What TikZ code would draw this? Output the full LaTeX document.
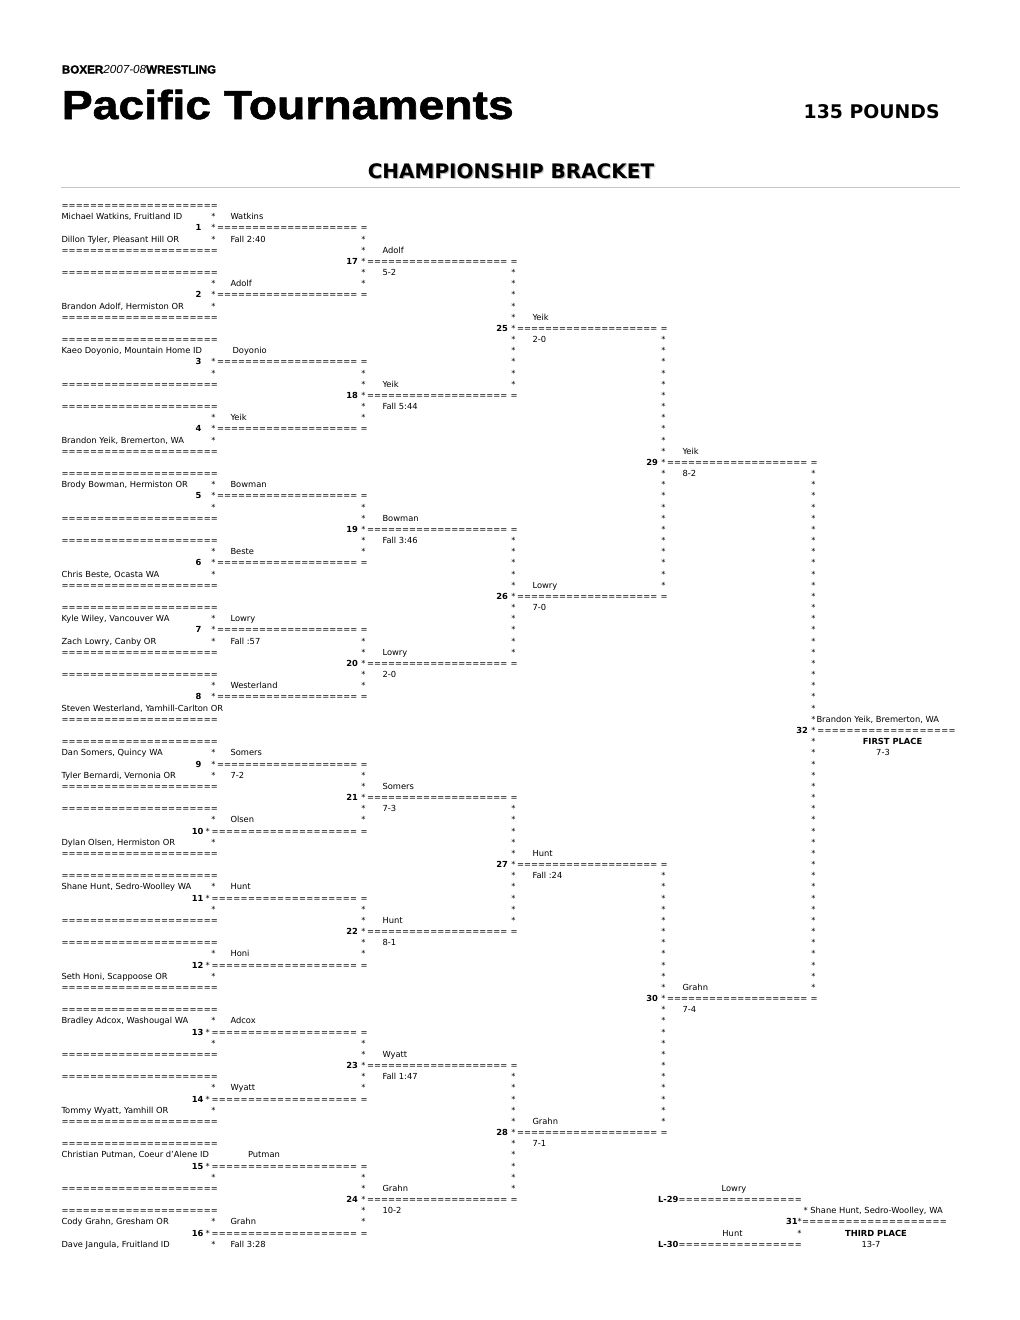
\documentclass[tikz,border=0pt]{standalone}
\usepackage{fontspec}
\setmainfont{DejaVu Sans}
\newfontfamily\libsans{Liberation Sans}
\newfontfamily\libheavy[FakeBold=1.4]{Liberation Sans}
\newfontfamily\dvsans{DejaVu Sans}
\newcommand\bodyfont{\dvsans\fontsize{5}{6}\selectfont}
\newcommand\eqs[1]{\hbox to \dimexpr #1pt*3/5\relax{\xleaders\hbox{=}\hfill}}
\newcommand\RY[1]{208.5+11.17*(#1)}
\tikzset{
  t/.style={inner sep=0pt,outer sep=0pt,anchor=base west,font=\bodyfont},
  tb/.style={t,font=\bodyfont\bfseries},
  st/.style={t,anchor=base},
}
% connector: name, x1, x2, row
\newcommand\Conn[4]{%
  \node[st] (#1-s) at (#2,{\RY{#4}}) {*};
  \pgfmathsetmacro\cw{#3-6-(#2+3.5)}%
  \node[t] (#1-l) at ({#2+3.5},{\RY{#4}}) {\eqs{\cw}};
  \node[st] (#1-e) at ({#3+0.5},{\RY{#4}}) {=};
}
% first round match
\newcommand\Match[8]{%
  \pgfmathtruncatemacro\rA{6*(#1-1)}%
  \node[t] (top-#1) at (61.5,{\RY{\rA}}) {\eqs{156.5}};
  \if\relax\detokenize{#2}\relax\else
    \node[t] (nA-#1) at (61.5,{\RY{\rA+1}}) {#2};\fi
  \ifnum#3=1 \node[st] (sA-#1) at (213.5,{\RY{\rA+1}}) {*};\fi
  \if\relax\detokenize{#4}\relax\else
    \node[t] (wA-#1) at (#8,{\RY{\rA+1}}) {#4};\fi
  \ifnum#1<10
    \node[tb,anchor=base east] (num-#1) at (201.5,{\RY{\rA+2}}) {#1};
    \Conn{c-#1}{213.5}{363.5}{\rA+2}
  \else
    \node[tb,anchor=base east] (num-#1) at (203.5,{\RY{\rA+2}}) {#1};
    \Conn{c-#1}{207.7}{363.5}{\rA+2}
  \fi
  \if\relax\detokenize{#5}\relax\else
    \node[t] (nB-#1) at (61.5,{\RY{\rA+3}}) {#5};\fi
  \ifnum#6=1 \node[st] (sB-#1) at (213.5,{\RY{\rA+3}}) {*};\fi
  \if\relax\detokenize{#7}\relax\else
    \node[t] (rB-#1) at (230.5,{\RY{\rA+3}}) {#7};\fi
  \ifnum\rA<90
    \node[t] (bot-#1) at (61.5,{\RY{\rA+4}}) {\eqs{156.5}};\fi
}
% later round match: number, row, col, nextcol, span, winner, score
\newcommand\MatchR[7]{%
  \foreach \d in {1,...,#5}{
    \node[st] (u-#1-\d) at (#3,{\RY{#2-\d}}) {*};
    \node[st] (dn-#1-\d) at (#3,{\RY{#2+\d}}) {*};
  }
  \node[t] (w-#1) at ({#3+19},{\RY{#2-1}}) {#6};
  \node[t] (sc-#1) at ({#3+19},{\RY{#2+1}}) {#7};
  \node[tb,anchor=base east] (num-#1) at ({#3-5.5},{\RY{#2}}) {#1};
  \Conn{c-#1}{#3}{#4}{#2}
}
\begin{document}
\begin{tikzpicture}[x=0.6pt,y=-0.6pt]
\fill[white] (0,0) rectangle (1020,1320);
\useasboundingbox (0,0) rectangle (1020,1320);

% header
\node[anchor=base west,inner sep=0pt] (brand) at (61.5,73.5)
  {\fontsize{7}{8}\selectfont\libheavy\bfseries BOXER\libsans\mdseries\itshape 2007-08\libheavy\upshape\bfseries WRESTLING};
\node[anchor=base west,inner sep=0pt] (title) at (61.5,119)
  {\scalebox{1.143}[1]{\libheavy\bfseries\fontsize{24.3}{27}\selectfont Pacific Tournaments}};
\node[anchor=base east,inner sep=0pt] (weight) at (940,118.5)
  {\dvsans\bfseries\fontsize{11.3}{13}\selectfont 135 POUNDS};
\node[anchor=base,inner sep=0pt,text=gray!55] (bracketshadow) at (512.2,179.2)
  {\dvsans\bfseries\fontsize{12}{14}\selectfont CHAMPIONSHIP BRACKET};
\node[anchor=base,inner sep=0pt] (bracket) at (511,178)
  {\dvsans\bfseries\fontsize{12}{14}\selectfont CHAMPIONSHIP BRACKET};
\coordinate (ruleL) at (61,187.5);
\coordinate (ruleR) at (960,187.5);
\draw[gray!45,line width=0.6pt] (ruleL) -- (ruleR);

% first round
\Match{1}{Michael Watkins, Fruitland ID}{1}{Watkins}{Dillon Tyler, Pleasant Hill OR}{1}{Fall 2:40}{230.5}
\Match{2}{}{1}{Adolf}{Brandon Adolf, Hermiston OR}{1}{}{230.5}
\Match{3}{Kaeo Doyonio, Mountain Home ID}{0}{Doyonio}{}{1}{}{232.5}
\Match{4}{}{1}{Yeik}{Brandon Yeik, Bremerton, WA}{1}{}{230.5}
\Match{5}{Brody Bowman, Hermiston OR}{1}{Bowman}{}{1}{}{230.5}
\Match{6}{}{1}{Beste}{Chris Beste, Ocasta WA}{1}{}{230.5}
\Match{7}{Kyle Wiley, Vancouver WA}{1}{Lowry}{Zach Lowry, Canby OR}{1}{Fall :57}{230.5}
\Match{8}{}{1}{Westerland}{Steven Westerland, Yamhill-Carlton OR}{0}{}{230.5}
\Match{9}{Dan Somers, Quincy WA}{1}{Somers}{Tyler Bernardi, Vernonia OR}{1}{7-2}{230.5}
\Match{10}{}{1}{Olsen}{Dylan Olsen, Hermiston OR}{1}{}{230.5}
\Match{11}{Shane Hunt, Sedro-Woolley WA}{1}{Hunt}{}{1}{}{230.5}
\Match{12}{}{1}{Honi}{Seth Honi, Scappoose OR}{1}{}{230.5}
\Match{13}{Bradley Adcox, Washougal WA}{1}{Adcox}{}{1}{}{230.5}
\Match{14}{}{1}{Wyatt}{Tommy Wyatt, Yamhill OR}{1}{}{230.5}
\Match{15}{Christian Putman, Coeur d’Alene ID}{0}{Putman}{}{1}{}{248}
\Match{16}{Cody Grahn, Gresham OR}{1}{Grahn}{Dave Jangula, Fruitland ID}{1}{Fall 3:28}{230.5}

% second round
\MatchR{17}{5}{363.5}{513.5}{2}{Adolf}{5-2}
\MatchR{18}{17}{363.5}{513.5}{2}{Yeik}{Fall 5:44}
\MatchR{19}{29}{363.5}{513.5}{2}{Bowman}{Fall 3:46}
\MatchR{20}{41}{363.5}{513.5}{2}{Lowry}{2-0}
\MatchR{21}{53}{363.5}{513.5}{2}{Somers}{7-3}
\MatchR{22}{65}{363.5}{513.5}{2}{Hunt}{8-1}
\MatchR{23}{77}{363.5}{513.5}{2}{Wyatt}{Fall 1:47}
\MatchR{24}{89}{363.5}{513.5}{2}{Grahn}{10-2}

% quarterfinals
\MatchR{25}{11}{513.5}{663.5}{5}{Yeik}{2-0}
\MatchR{26}{35}{513.5}{663.5}{5}{Lowry}{7-0}
\MatchR{27}{59}{513.5}{663.5}{5}{Hunt}{Fall :24}
\MatchR{28}{83}{513.5}{663.5}{5}{Grahn}{7-1}

% semifinals
\MatchR{29}{23}{663.5}{813.5}{11}{Yeik}{8-2}
\MatchR{30}{71}{663.5}{813.5}{11}{Grahn}{7-4}

% final
\foreach \r in {24,...,46,48,49,...,70}{
  \node[st] (f-\r) at (813.5,{\RY{\r}}) {*};
}
\node[t] (champ) at (816.5,{\RY{46}}) {Brandon Yeik, Bremerton, WA};
\node[tb,anchor=base east] (num-32) at (808,{\RY{47}}) {32};
\node[st] (c-32-s) at (813.5,{\RY{47}}) {*};
\node[t] (c-32-l) at (817,{\RY{47}}) {\eqs{139}};
\node[tb,anchor=base] (first) at (892.5,{\RY{48}}) {FIRST PLACE};
\node[t,anchor=base] (sc-32) at (883,{\RY{49}}) {7-3};

% third place
\node[t,anchor=base] (l29name) at (734,{\RY{88}}) {Lowry};
\node[t] (l29) at (658,{\RY{89}}) {\hbox to \dimexpr 144pt*3/5\relax{\textbf{L-29}\xleaders\hbox{=}\hfill}};
\node[t] (third-name) at (803.5,{\RY{90}}) {* Shane Hunt, Sedro-Woolley, WA};
\node[t] (c-31) at (786,{\RY{91}}) {\hbox to \dimexpr 161pt*3/5\relax{\textbf{31}*\xleaders\hbox{=}\hfill}};
\node[t,anchor=base] (l30name) at (732.5,{\RY{92}}) {Hunt};
\node[st] (s-31) at (799.5,{\RY{92}}) {*};
\node[tb,anchor=base] (third) at (876,{\RY{92}}) {THIRD PLACE};
\node[t] (l30) at (658,{\RY{93}}) {\hbox to \dimexpr 144pt*3/5\relax{\textbf{L-30}\xleaders\hbox{=}\hfill}};
\node[t,anchor=base] (sc-31) at (871,{\RY{93}}) {13-7};
\end{tikzpicture}
\end{document}
